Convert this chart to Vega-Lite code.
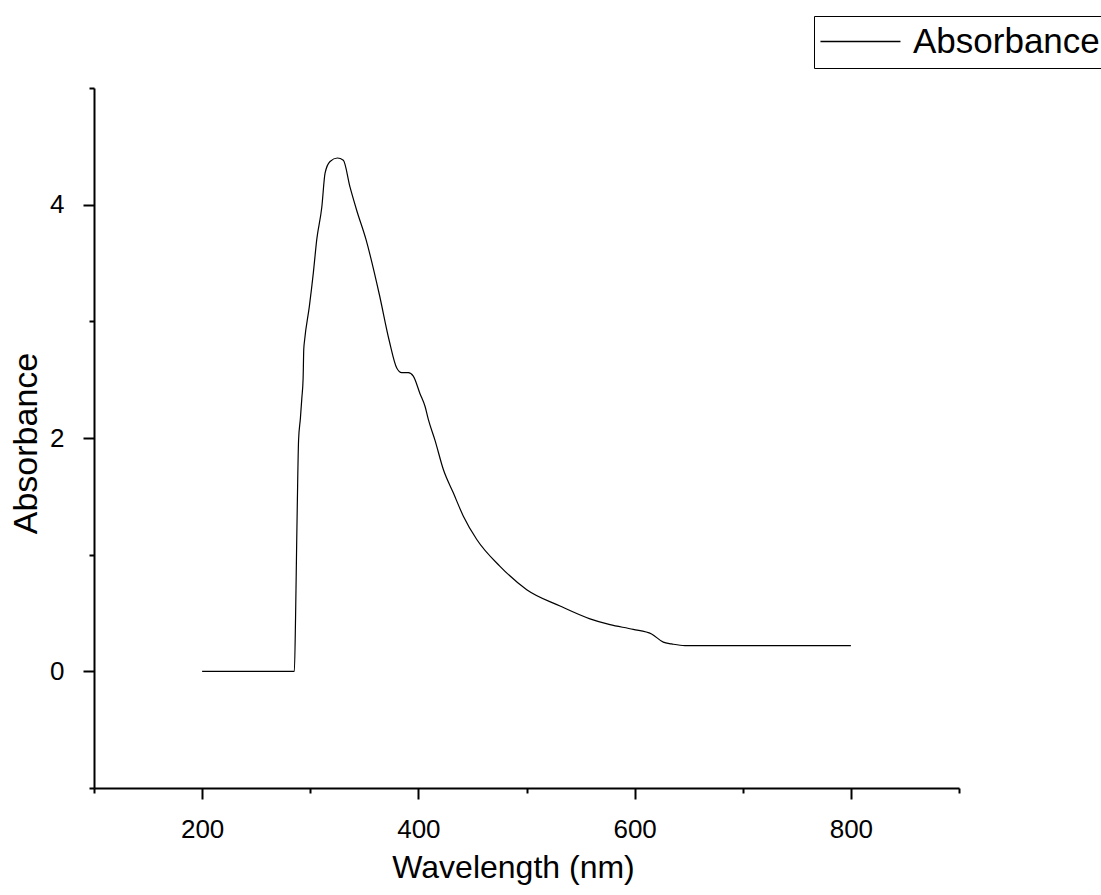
{
  "$schema": "https://vega.github.io/schema/vega-lite/v6.json",
  "autosize": "none",
  "width": 865,
  "height": 700,
  "padding": {"left": 94, "top": 88, "right": 142, "bottom": 107},
  "background": "white",
  "config": {
    "view": {"stroke": null},
    "font": "Liberation Sans"
  },
  "data": {
    "values": [
      {"wavelength": 200, "absorbance": 0},
      {"wavelength": 250, "absorbance": 0},
      {"wavelength": 285.3, "absorbance": 0},
      {"wavelength": 286.4, "absorbance": 0.45},
      {"wavelength": 287.5, "absorbance": 1.13},
      {"wavelength": 288.1, "absorbance": 1.47},
      {"wavelength": 289.2, "absorbance": 1.98},
      {"wavelength": 290.9, "absorbance": 2.17},
      {"wavelength": 292.2, "absorbance": 2.34},
      {"wavelength": 293.4, "absorbance": 2.51},
      {"wavelength": 294.0, "absorbance": 2.76},
      {"wavelength": 294.8, "absorbance": 2.84},
      {"wavelength": 299.2, "absorbance": 3.13},
      {"wavelength": 302.9, "absorbance": 3.42},
      {"wavelength": 306.0, "absorbance": 3.70},
      {"wavelength": 310.7, "absorbance": 3.98},
      {"wavelength": 313.7, "absorbance": 4.27},
      {"wavelength": 318.3, "absorbance": 4.37},
      {"wavelength": 325.1, "absorbance": 4.40},
      {"wavelength": 330.6, "absorbance": 4.38},
      {"wavelength": 336.8, "absorbance": 4.15},
      {"wavelength": 343.0, "absorbance": 3.95},
      {"wavelength": 351.6, "absorbance": 3.70},
      {"wavelength": 363.9, "absorbance": 3.23},
      {"wavelength": 372.9, "absorbance": 2.84},
      {"wavelength": 380.0, "absorbance": 2.60},
      {"wavelength": 384.6, "absorbance": 2.56},
      {"wavelength": 390.7, "absorbance": 2.56},
      {"wavelength": 395.3, "absorbance": 2.53},
      {"wavelength": 401.5, "absorbance": 2.38},
      {"wavelength": 406.2, "absorbance": 2.27},
      {"wavelength": 409.2, "absorbance": 2.16},
      {"wavelength": 415.4, "absorbance": 1.98},
      {"wavelength": 423.1, "absorbance": 1.73},
      {"wavelength": 432.3, "absorbance": 1.53},
      {"wavelength": 441.6, "absorbance": 1.33},
      {"wavelength": 454.0, "absorbance": 1.13},
      {"wavelength": 475.5, "absorbance": 0.90},
      {"wavelength": 500.2, "absorbance": 0.70},
      {"wavelength": 531.0, "absorbance": 0.56},
      {"wavelength": 558.7, "absorbance": 0.45},
      {"wavelength": 577.2, "absorbance": 0.40},
      {"wavelength": 598.7, "absorbance": 0.36},
      {"wavelength": 615.7, "absorbance": 0.32},
      {"wavelength": 626.5, "absorbance": 0.25},
      {"wavelength": 634.2, "absorbance": 0.235},
      {"wavelength": 646.5, "absorbance": 0.22},
      {"wavelength": 700, "absorbance": 0.22},
      {"wavelength": 750, "absorbance": 0.22},
      {"wavelength": 800, "absorbance": 0.22}
    ]
  },
  "layer": [
    {
      "mark": {"type": "line", "strokeWidth": 1.2, "interpolate": "monotone"},
      "encoding": {
        "x": {
          "field": "wavelength",
          "type": "quantitative",
          "scale": {"domain": [100, 900], "nice": false, "zero": false},
          "axis": {
            "orient": "bottom",
            "title": "Wavelength (nm)",
            "titleFontSize": 32,
            "titleFontWeight": "normal",
            "titleColor": "black",
            "titlePadding": 10,
            "titleX": 419,
            "values": [200, 400, 600, 800],
            "labelFontSize": 26,
            "labelColor": "black",
            "labelPadding": 17,
            "labelFlush": false,
            "labelOverlap": false,
            "grid": false,
            "domainColor": "black",
            "domainWidth": 2,
            "tickColor": "black",
            "tickWidth": 2,
            "tickSize": 11
          }
        },
        "y": {
          "field": "absorbance",
          "type": "quantitative",
          "scale": {"domain": [-1, 5], "nice": false, "zero": false},
          "axis": {
            "orient": "left",
            "title": "Absorbance",
            "titleFontSize": 34,
            "titleFontWeight": "normal",
            "titleColor": "black",
            "titlePadding": 6,
            "titleY": 355,
            "values": [0, 2, 4],
            "labelFontSize": 26,
            "labelColor": "black",
            "labelPadding": 19,
            "labelFlush": false,
            "labelOverlap": false,
            "grid": false,
            "domainColor": "black",
            "domainWidth": 2,
            "tickColor": "black",
            "tickWidth": 2,
            "tickSize": 11
          }
        },
        "color": {
          "datum": "Absorbance",
          "type": "nominal",
          "scale": {"range": ["black"]},
          "legend": {
            "title": null,
            "orient": "none",
            "legendX": 720,
            "legendY": -72,
            "strokeColor": "black",
            "padding": 8,
            "symbolType": "M-1.19,0H3.81",
            "symbolSize": 1024,
            "symbolStrokeWidth": 1.5,
            "labelFontSize": 35,
            "labelLimit": 500,
            "labelColor": "black",
            "labelOffset": 56,
            "fillColor": "white"
          }
        }
      }
    },
    {
      "mark": {"type": "line", "strokeOpacity": 0},
      "encoding": {
        "x": {
          "field": "wavelength",
          "type": "quantitative",
          "axis": {
            "orient": "bottom",
            "title": null,
            "values": [100, 300, 500, 700, 900],
            "labels": false,
            "domain": false,
            "grid": false,
            "tickColor": "black",
            "tickWidth": 2,
            "tickSize": 5
          }
        },
        "y": {
          "field": "absorbance",
          "type": "quantitative",
          "axis": {
            "orient": "left",
            "title": null,
            "values": [-1, 1, 3, 5],
            "labels": false,
            "domain": false,
            "grid": false,
            "tickColor": "black",
            "tickWidth": 2,
            "tickSize": 5
          }
        }
      }
    }
  ],
  "resolve": {"axis": {"x": "independent", "y": "independent"}}
}
